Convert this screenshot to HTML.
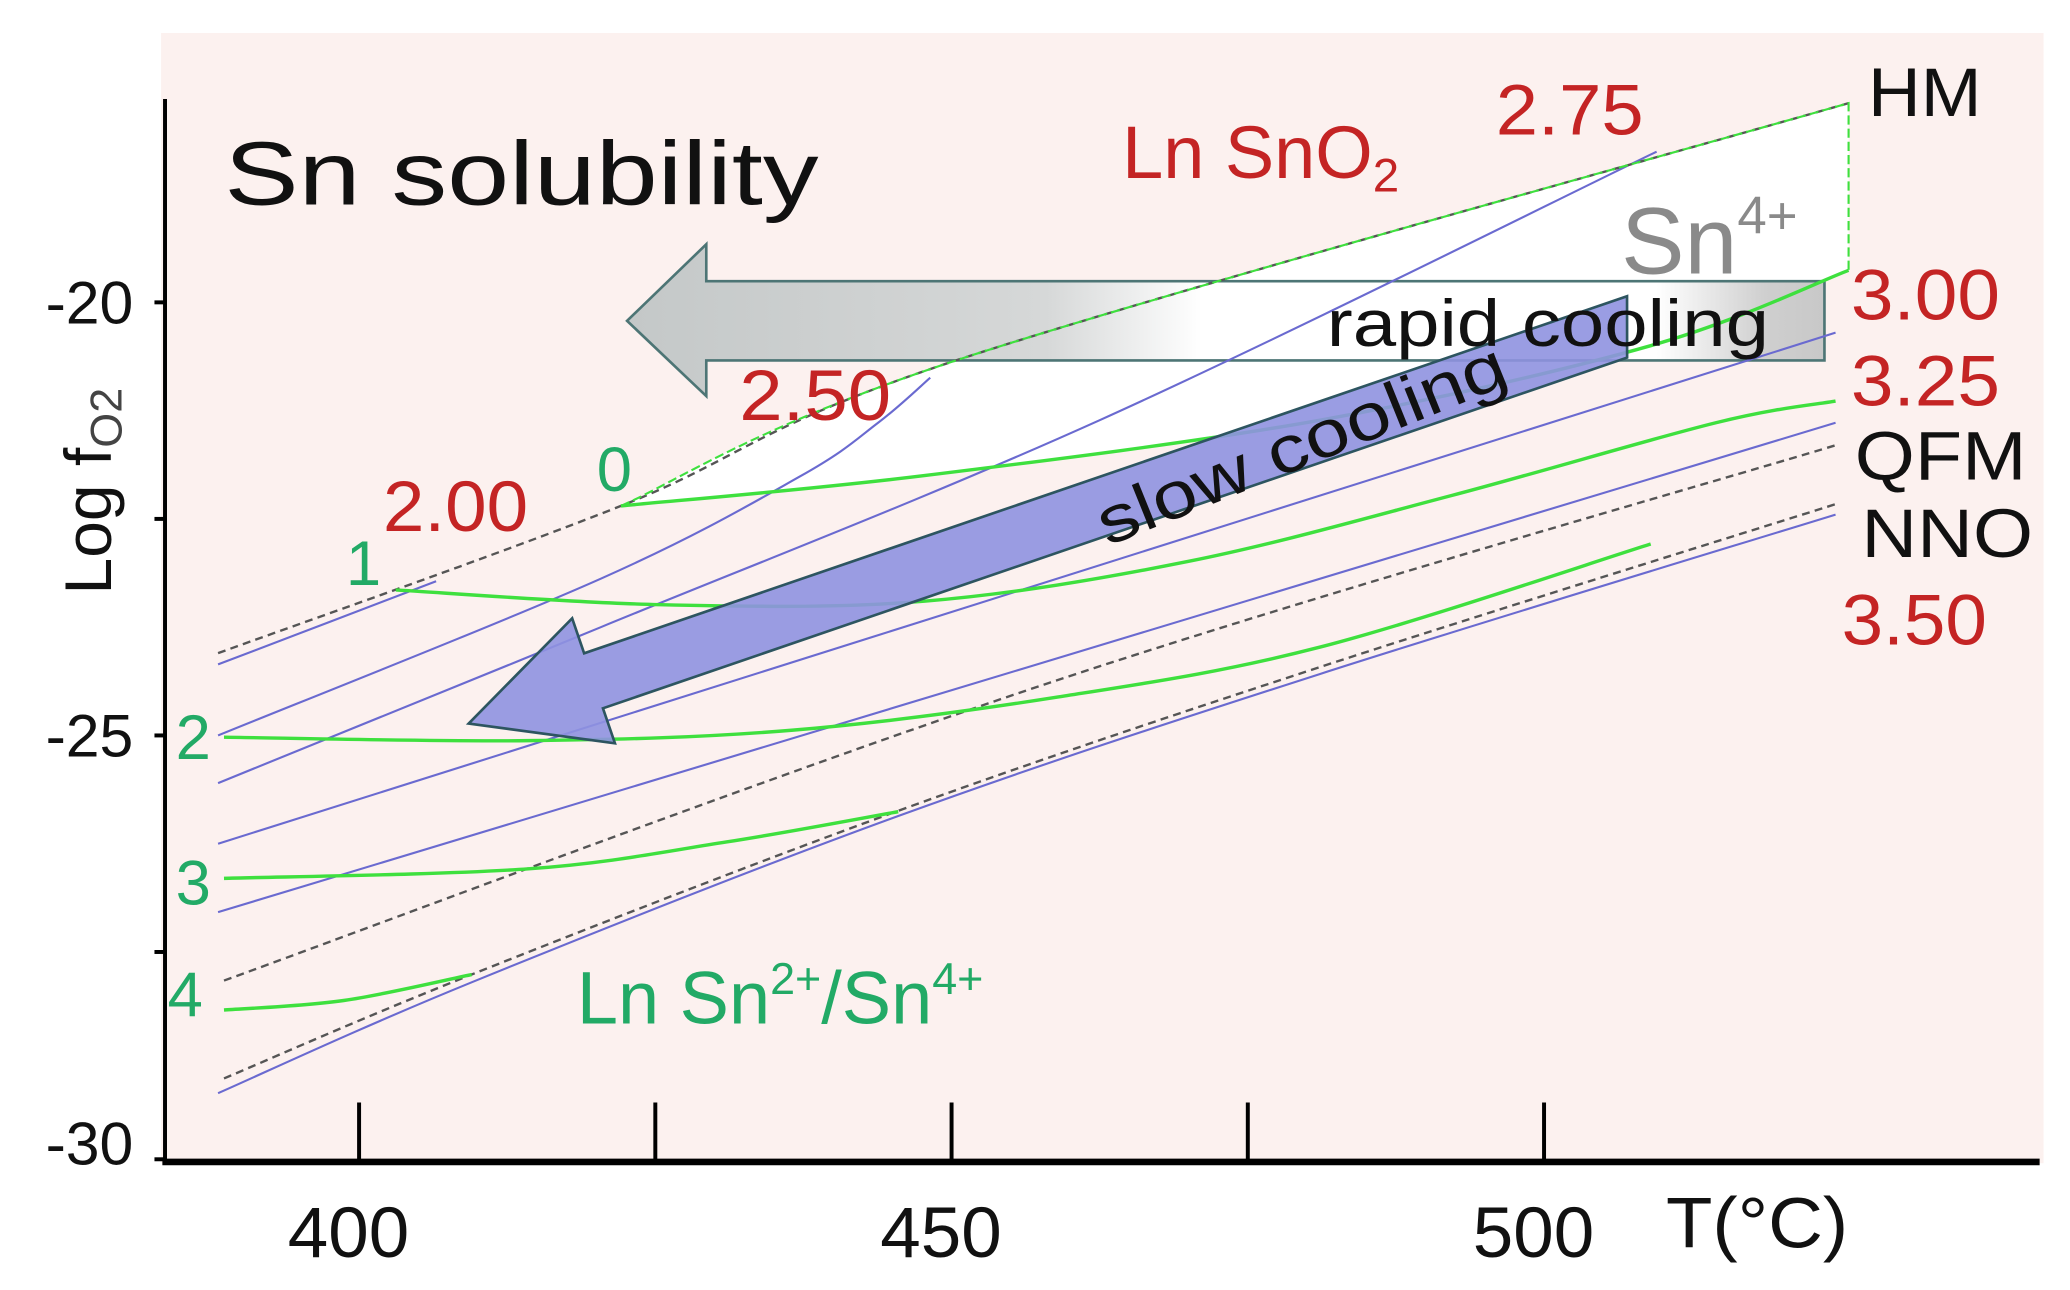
<!DOCTYPE html>
<html><head><meta charset="utf-8"><style>
html,body{margin:0;padding:0;background:#fff;}
svg{display:block;}
text{font-family:"Liberation Sans",sans-serif;}
</style></head><body>
<svg id="chart" width="2070" height="1290" viewBox="0 0 1568 977" preserveAspectRatio="none" xmlns="http://www.w3.org/2000/svg">
<defs>
<linearGradient id="rg" x1="0" x2="1" y1="0" y2="0">
<stop offset="0" stop-color="#c4c8c8"/><stop offset="0.35" stop-color="#d6d8d8"/><stop offset="0.48" stop-color="#ffffff"/><stop offset="0.86" stop-color="#ffffff"/><stop offset="0.95" stop-color="#cfcfcf"/><stop offset="1" stop-color="#c8c8c8"/>
</linearGradient>
</defs>
<rect x="122" y="25" width="1426" height="856" fill="#fcf1ef"/>
<g id="white-area"></g>
<polygon points="475,243 535,185 535,213 1382,213 1382,273 535,273 535,300" fill="url(#rg)" stroke="#4d7575" stroke-width="2"/>
<g id="lines"></g>
<g transform="translate(355,548) rotate(-18.9)">
<polygon points="0,0 100,-50 100,-22 935,-22 920,22 100,22 100,50" fill="#8f92e0" fill-opacity="0.9" stroke="#2d5560" stroke-width="2"/>
</g>
<g id="axes"></g>
<text x="170" y="155" font-size="68" fill="#111" textLength="450" lengthAdjust="spacingAndGlyphs">Sn solubility</text>
<text x="850" y="135" font-size="56" fill="#c42424">Ln SnO<tspan font-size="36" dy="10">2</tspan></text>
<text x="1133" y="102" font-size="54" fill="#c42424" textLength="112" lengthAdjust="spacingAndGlyphs">2.75</text>
<text x="1415" y="88" font-size="52" fill="#111" textLength="86" lengthAdjust="spacingAndGlyphs">HM</text>
<text x="1228" y="207" font-size="72" fill="#8a8a8a">Sn<tspan font-size="40" dy="-30">4+</tspan></text>
<text x="1402" y="242" font-size="54" fill="#c42424" textLength="113" lengthAdjust="spacingAndGlyphs">3.00</text>
<text x="1005" y="262" font-size="50" fill="#111" textLength="335" lengthAdjust="spacingAndGlyphs">rapid cooling</text>
<text x="1402" y="307" font-size="54" fill="#c42424" textLength="113" lengthAdjust="spacingAndGlyphs">3.25</text>
<text x="1405" y="363" font-size="52" fill="#111" textLength="130" lengthAdjust="spacingAndGlyphs">QFM</text>
<text x="1410" y="422" font-size="52" fill="#111" textLength="130" lengthAdjust="spacingAndGlyphs">NNO</text>
<text x="1395" y="488" font-size="54" fill="#c42424" textLength="110" lengthAdjust="spacingAndGlyphs">3.50</text>
<text x="560" y="318" font-size="54" fill="#c42424" textLength="115" lengthAdjust="spacingAndGlyphs">2.50</text>
<text x="290" y="402" font-size="54" fill="#c42424" textLength="110" lengthAdjust="spacingAndGlyphs">2.00</text>
<text x="452" y="372" font-size="48" fill="#22aa66">0</text>
<text x="262" y="443" font-size="48" fill="#22aa66">1</text>
<text x="133" y="575" font-size="48" fill="#22aa66">2</text>
<text x="133" y="685" font-size="48" fill="#22aa66">3</text>
<text x="127" y="770" font-size="48" fill="#22aa66">4</text>
<text x="437" y="775" font-size="56" fill="#22aa66">Ln Sn<tspan font-size="34" dy="-22">2+</tspan><tspan dy="22">/Sn</tspan><tspan font-size="34" dy="-22">4+</tspan></text>
<text x="0" y="0" font-size="50" fill="#111" text-anchor="middle" textLength="330" lengthAdjust="spacingAndGlyphs" transform="translate(992,352) rotate(-22)">slow cooling</text>
<text x="0" y="0" font-size="50" fill="#111" text-anchor="middle" transform="translate(84,372) rotate(-90)">Log f<tspan font-size="34" dy="8" fill="#444">O2</tspan></text>
<text x="1262" y="945" font-size="54" fill="#111" textLength="138" lengthAdjust="spacingAndGlyphs">T(°C)</text>
</svg>
<script>
const xTicks=[400,425,450,475,500];
const xTickLabels=["400","","450","","500"];
const yTicks=[-20,-22.5,-25,-27.5,-30];
const yTickLabels=["-20","","-25","","-30"];
const bufferNames=["HM","QFM","NNO"];
const hmT=[388.1,422.1,450.6,525.7], hmV=[-24.05,-22.35,-20.66,-17.70];
const qfmT=[388.6,458.3,524.6], qfmV=[-27.83,-24.39,-21.65];
const nnoT=[388.6,409.5,445.5,481.1,524.6], nnoV=[-28.96,-27.76,-25.87,-24.21,-22.33];
const blueNames=["2.00","2.50","2.75","3.00","3.25","3.50"];
const blueT=[[388.1,406.5],[388.1,420.4,437.2,443.8,448.2],[388.1,420.4,462.5,509.5],[388.1,524.6],[388.1,524.6],[388.1,409.5,445.5,481.1,524.6]];
const blueV=[[-24.18,-23.22],[-25.0,-23.19,-22.01,-21.39,-20.87],[-25.55,-23.75,-21.36,-18.26],[-26.25,-20.35],[-27.04,-21.39],[-29.13,-27.85,-25.93,-24.29,-22.45]];
const greenNames=["0","1","2","3","4"];
const greenT=[[422.1,447.7,481.1,509.0,525.7],[403.1,425.4,447.7,470.0,492.2,514.5,524.6],[388.6,414.3,436.5,458.8,481.1,509.0],[388.6,414.3,431.0,445.5],[388.6,398.7,409.5]];
const greenV=[[-22.35,-22.0,-21.36,-20.50,-19.63],[-23.32,-23.49,-23.45,-22.99,-22.23,-21.39,-21.14],[-25.02,-25.06,-24.94,-24.56,-23.98,-22.79],[-26.65,-26.54,-26.23,-25.88],[-28.17,-28.06,-27.76]];

const NS="http://www.w3.org/2000/svg";
function X(t){return 272+(t-400)*8.976;}
function Y(v){return 229+(-20-v)*65.6;}
function mk(tag,attrs,parent){const e=document.createElementNS(NS,tag);for(const k in attrs)e.setAttribute(k,attrs[k]);parent.appendChild(e);return e;}
function smooth(ts,vs){const p=ts.map((t,i)=>[X(t),Y(vs[i])]);let d="M"+p[0][0]+","+p[0][1];
 for(let i=0;i<p.length-1;i++){const p0=p[Math.max(0,i-1)],p1=p[i],p2=p[i+1],p3=p[Math.min(p.length-1,i+2)];
 const c1=[p1[0]+(p2[0]-p0[0])/6,p1[1]+(p2[1]-p0[1])/6],c2=[p2[0]-(p3[0]-p1[0])/6,p2[1]-(p3[1]-p1[1])/6];
 d+=" C"+c1[0]+","+c1[1]+" "+c2[0]+","+c2[1]+" "+p2[0]+","+p2[1];}return d;}

const g0T=greenT[0],g0V=greenV[0];
const hmUpperT=hmT.filter(t=>t>=g0T[0]-0.01), hmUpperV=hmV.slice(hmT.length-hmUpperT.length);
const wa=document.getElementById('white-area');
let wd=smooth(hmUpperT,hmUpperV)+" L"+X(g0T[g0T.length-1])+","+Y(g0V[g0V.length-1]);
const rT=g0T.slice().reverse(),rV=g0V.slice().reverse();
wd+=" "+smooth(rT,rV).replace(/^M[^C]*/,"")+" Z";
const wp=mk('path',{d:wd,fill:"#ffffff"},wa);



const L=document.getElementById('lines');
blueT.forEach((ts,i)=>{const e=mk('path',{d:smooth(ts,blueV[i]),fill:"none",stroke:"#6a6ad0","stroke-width":1.6},L);
 
 });
[[hmT,hmV],[qfmT,qfmV],[nnoT,nnoV]].forEach((b,i)=>{const e=mk('path',{d:smooth(b[0],b[1]),fill:"none",stroke:"#555","stroke-width":1.8,"stroke-dasharray":"6,4"},L);
 
 });
greenT.forEach((ts,i)=>{const e=mk('path',{d:smooth(ts,greenV[i]),fill:"none",stroke:"#3ee03e","stroke-width":2.6},L);
 
 });
const gb=mk('path',{d:smooth(hmUpperT,hmUpperV)+" L"+X(g0T[g0T.length-1])+","+Y(g0V[g0V.length-1]),fill:"none",stroke:"#3ee03e","stroke-width":1.6,"stroke-dasharray":"7,3"},L);



const A=document.getElementById('axes');
const ya=mk('line',{x1:125,y1:75,x2:125,y2:882,stroke:"#000","stroke-width":3},A);


const xa=mk('line',{x1:123,y1:880,x2:1545,y2:880,stroke:"#000","stroke-width":5},A);


xTicks.forEach((t,i)=>{const e=mk('line',{x1:X(t),y1:835,x2:X(t),y2:880,stroke:"#000","stroke-width":3},A);
 
 
 if(xTickLabels[i]){const tx=mk('text',{x:X(t)-8,y:952,"font-size":54,fill:"#111","text-anchor":"middle",textLength:92,lengthAdjust:"spacingAndGlyphs"},A);tx.textContent=xTickLabels[i];
 
 }});
yTicks.forEach((v,i)=>{const yy=Math.min(Y(v),878);const e=mk('line',{x1:117,y1:yy,x2:125,y2:yy,stroke:"#000","stroke-width":3},A);
 
 
 if(yTickLabels[i]){const tx=mk('text',{x:101,y:(v===-30?882:yy+16),"font-size":46,fill:"#111","text-anchor":"end"},A);tx.textContent=yTickLabels[i];
 
 }});
</script>
</body></html>
